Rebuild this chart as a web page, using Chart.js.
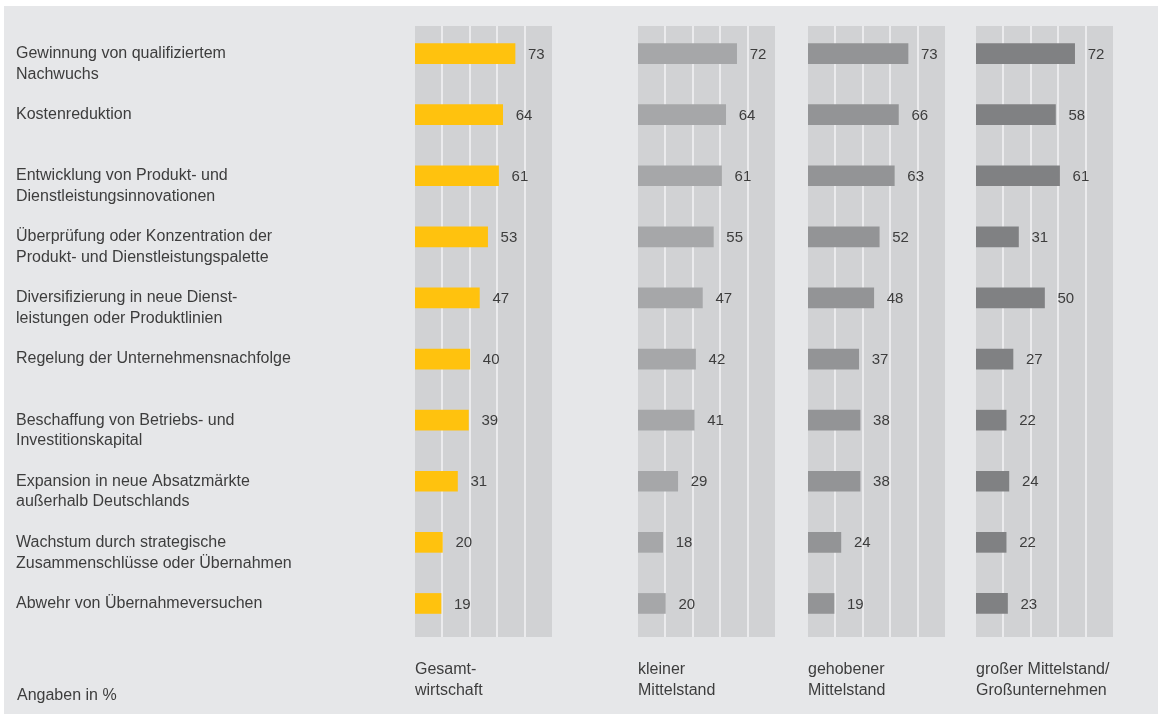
<!DOCTYPE html>
<html lang="de">
<head>
  <meta charset="UTF-8" />
  <title>Strategische Themen</title>
  <script src="https://cdn.jsdelivr.net/npm/chart.js"></script>
  <style>
    body { margin: 0; background: #fff; font-family: "Liberation Sans", Arial, sans-serif; }
    #wrap { position: absolute; left: 4px; top: 6px; width: 1154px; height: 708px; background: #e6e7e9; }
    #wrap canvas { position: absolute; top: 0; }
    #note { position: absolute; left: 13px; top: 680px; font-size: 16px; color: #3d3d3d; }
  </style>
</head>
<body>
  <div id="wrap">
    <canvas id="c1" width="560" height="708" style="left:0"></canvas>
    <canvas id="c2" width="145" height="708" style="left:630px"></canvas>
    <canvas id="c3" width="145" height="708" style="left:800px"></canvas>
    <canvas id="c4" width="145" height="708" style="left:968px"></canvas>
    <div id="note">Angaben in %</div>
  </div>

  <script>
    // row labels (two-line labels as arrays)
    const categories = [
      ['Gewinnung von qualifiziertem', 'Nachwuchs'],
      'Kostenreduktion',
      ['Entwicklung von Produkt- und', 'Dienstleistungsinnovationen'],
      ['Überprüfung oder Konzentration der', 'Produkt- und Dienstleistungspalette'],
      ['Diversifizierung in neue Dienst-', 'leistungen oder Produktlinien'],
      'Regelung der Unternehmensnachfolge',
      ['Beschaffung von Betriebs- und', 'Investitionskapital'],
      ['Expansion in neue Absatzmärkte', 'außerhalb Deutschlands'],
      ['Wachstum durch strategische', 'Zusammenschlüsse oder Übernahmen'],
      'Abwehr von Übernahmeversuchen'
    ];

    const groupTitles = [
      ['Gesamt-', 'wirtschaft'],
      ['kleiner', 'Mittelstand'],
      ['gehobener', 'Mittelstand'],
      ['großer Mittelstand/', 'Großunternehmen']
    ];

    const gesamt  = [73, 64, 61, 53, 47, 40, 39, 31, 20, 19];
    const kleiner = [72, 64, 61, 55, 47, 42, 41, 29, 18, 20];
    const gehoben = [73, 66, 63, 52, 48, 37, 38, 38, 24, 19];
    const gross   = [72, 58, 61, 31, 50, 27, 22, 24, 22, 23];

    const xMin = 0, xMax = 100, xStep = 20;

    const FONT = '"Liberation Sans", Arial, sans-serif';
    const TEXT = '#3d3d3d';
    Chart.defaults.font.family = FONT;
    Chart.defaults.color = TEXT;

    // grey columns (one per 20 %) behind each panel, sitting a few px lower than the bars
    const BAND_SHIFT = 3;
    const bandPlugin = {
      id: 'bands',
      beforeDatasetsDraw(chart) {
        const { ctx, chartArea: a, scales: { x } } = chart;
        const top = a.top + BAND_SHIFT, h = a.bottom - a.top;
        ctx.save();
        ctx.fillStyle = '#d1d2d4';
        ctx.fillRect(a.left, top, a.right - a.left, h);
        ctx.fillStyle = '#ebebed';
        for (let v = xMin + xStep; v < xMax; v += xStep) {
          ctx.fillRect(Math.round(x.getPixelForValue(v)) - 1, top, 2, h);
        }
        ctx.restore();
      }
    };

    // number next to each bar
    const valuePlugin = {
      id: 'values',
      afterDatasetsDraw(chart) {
        const { ctx } = chart;
        const ds = chart.data.datasets[0];
        ctx.save();
        ctx.font = '15px ' + FONT;
        ctx.fillStyle = TEXT;
        ctx.textAlign = 'left';
        ctx.textBaseline = 'middle';
        chart.getDatasetMeta(0).data.forEach((bar, i) => {
          ctx.fillText(String(ds.data[i]), bar.x + 13, bar.y + 1);
        });
        ctx.restore();
      }
    };

    function makePanel(id, values, color, title, withLabels) {
      return new Chart(document.getElementById(id), {
        type: 'bar',
        data: {
          labels: categories.map(c => Array.isArray(c) ? c.join(' ') : c),
          datasets: [{ data: values, backgroundColor: color, barThickness: 20 }]
        },
        options: {
          indexAxis: 'y',
          responsive: false,
          animation: false,
          layout: { padding: withLabels ? { left: 12, right: 12, top: 17, bottom: 0 }
                                        : { left: 4, right: 4, top: 17, bottom: 0 } },
          plugins: { legend: { display: false }, tooltip: { enabled: false } },
          scales: {
            x: {
              min: xMin, max: xMax,
              ticks: { stepSize: xStep, display: false },
              border: { display: false },
              grid: { display: false },
              title: {
                display: true, text: title, align: 'start', color: TEXT,
                font: { size: 16, lineHeight: 1.3 },
                padding: { top: 0, bottom: 13.5 }
              },
              afterFit: s => { s.height = 80; }
            },
            y: {
              display: withLabels,
              grid: { display: false },
              border: { display: false },
              ticks: {
                autoSkip: false,
                crossAlign: 'far',
                padding: 0,
                color: TEXT,
                font: { size: 16, lineHeight: 1.3 },
                // leading blank line puts the first text line level with the bar
                callback: (v, i) => Array.isArray(categories[i]) ? ['', ...categories[i]] : categories[i]
              },
              afterFit: s => {
                if (!withLabels) return;
                s.width = 399;
                s.paddingTop = 0;
                s.paddingBottom = 0;
              }
            }
          }
        },
        plugins: [bandPlugin, valuePlugin]
      });
    }

    makePanel('c1', gesamt,  '#ffc20e', groupTitles[0], true);
    makePanel('c2', kleiner, '#a6a7a9', groupTitles[1], false);
    makePanel('c3', gehoben, '#939496', groupTitles[2], false);
    makePanel('c4', gross,   '#808183', groupTitles[3], false);
  </script>
</body>
</html>
